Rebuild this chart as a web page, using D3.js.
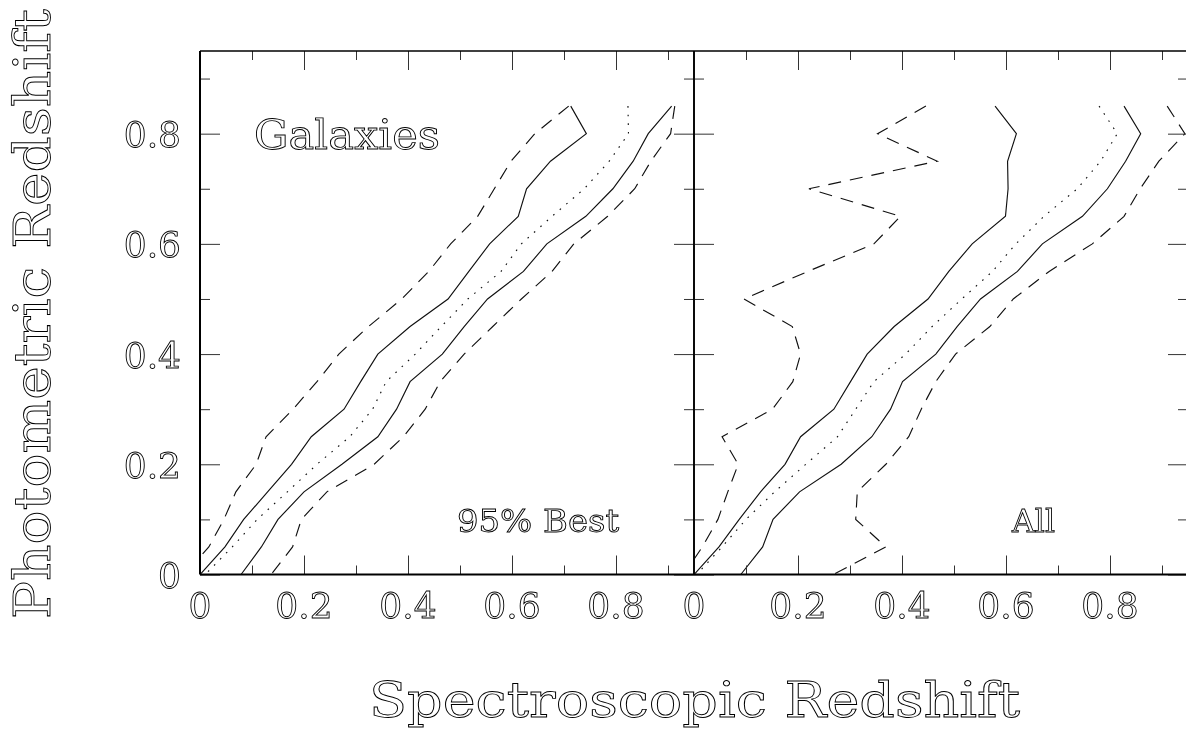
<!DOCTYPE html>
<html>
<head>
<meta charset="utf-8">
<script src="https://cdn.jsdelivr.net/npm/d3@7"></script>
<style>
  html, body { margin: 0; padding: 0; background: #fff; }
  svg { display: block; filter: grayscale(100%); -webkit-font-smoothing: antialiased; }
</style>
</head>
<body>
<svg id="chart" width="1186" height="731"></svg>
<script>
// ---------- data ----------
// photometric-redshift levels (y) at which the curves are sampled, top to bottom
const zPhot = [0.85, 0.8, 0.75, 0.7, 0.65, 0.6, 0.55, 0.5, 0.45, 0.4, 0.35, 0.3, 0.25, 0.2, 0.15, 0.1, 0.05, 0];

// left panel ("95% Best"): spectroscopic redshift of each curve at the levels above
const bestOuterLow  = [0.709, 0.644, 0.598, 0.566, 0.534, 0.482, 0.440, 0.388, 0.324, 0.267, 0.225, 0.179, 0.127, 0.108, 0.069, 0.046, 0.017, -0.03];
const bestInnerLow  = [0.713, 0.743, 0.674, 0.628, 0.612, 0.557, 0.517, 0.477, 0.404, 0.342, 0.309, 0.277, 0.214, 0.176, 0.130, 0.084, 0.048, 0.0];
const bestMedian    = [0.823, 0.824, 0.787, 0.739, 0.677, 0.618, 0.579, 0.515, 0.464, 0.414, 0.358, 0.332, 0.288, 0.225, 0.168, 0.110, 0.062, 0.010];
const bestInnerHigh = [0.907, 0.862, 0.833, 0.794, 0.742, 0.667, 0.622, 0.553, 0.508, 0.466, 0.404, 0.378, 0.342, 0.273, 0.200, 0.150, 0.118, 0.079];
const bestOuterHigh = [0.913, 0.905, 0.867, 0.836, 0.784, 0.719, 0.677, 0.618, 0.563, 0.508, 0.462, 0.433, 0.391, 0.335, 0.244, 0.195, 0.178, 0.137];

// right panel ("All")
const allOuterLow  = [0.446, 0.353, 0.468, 0.221, 0.397, 0.346, 0.219, 0.096, 0.189, 0.205, 0.190, 0.151, 0.054, 0.085, 0.065, 0.046, 0.016, -0.02];
const allInnerLow  = [0.579, 0.620, 0.603, 0.604, 0.599, 0.535, 0.490, 0.450, 0.385, 0.333, 0.301, 0.269, 0.205, 0.175, 0.128, 0.087, 0.048, 0.0];
const allMedian    = [0.779, 0.814, 0.782, 0.737, 0.673, 0.619, 0.574, 0.515, 0.458, 0.407, 0.346, 0.311, 0.276, 0.215, 0.155, 0.100, 0.054, 0.005];
const allInnerHigh = [0.827, 0.859, 0.830, 0.795, 0.747, 0.670, 0.622, 0.551, 0.506, 0.465, 0.401, 0.378, 0.342, 0.283, 0.203, 0.152, 0.132, 0.090];
const allOuterHigh = [0.910, 0.944, 0.894, 0.858, 0.827, 0.766, 0.683, 0.614, 0.569, 0.503, 0.465, 0.437, 0.413, 0.369, 0.314, 0.311, 0.369, 0.268];

const tickValues  = [0, 0.1, 0.2, 0.3, 0.4, 0.5, 0.6, 0.7, 0.8, 0.9];
const majorTicks  = [0, 0.2, 0.4, 0.6, 0.8];
const tickLabels  = ["0", "0.2", "0.4", "0.6", "0.8"];
const panelLabels = ["95% Best", "All"];
const titleText   = "Galaxies";
const xTitle      = "Spectroscopic Redshift";
const yTitle      = "Photometric Redshift";

// ---------- layout ----------
const FONT = "'DejaVu Serif', 'Liberation Serif', serif";
const svg = d3.select("#chart");
const yTop = 51, yBottom = 574.5;
const panels = [
  { x0: 200, x1: 694, curves: [bestOuterLow, bestInnerLow, bestMedian, bestInnerHigh, bestOuterHigh],
    label: panelLabels[0], labelX: 457, labelLen: 162 },
  { x0: 694, x1: 1188, curves: [allOuterLow, allInnerLow, allMedian, allInnerHigh, allOuterHigh],
    label: panelLabels[1], labelX: 1012, labelLen: 43 }
];
const styles = [
  { dash: "13,9" }, { dash: null }, { dash: "1.6,7" }, { dash: null }, { dash: "13,9" }
];
const y = d3.scaleLinear().domain([0, 0.95]).range([yBottom, yTop]);

function textStyle(sel, size) {
  sel.attr("font-family", FONT).attr("font-size", size)
     .attr("fill", "none").attr("stroke", "#000").attr("stroke-width", 0.9);
}

panels.forEach((p, i) => {
  const x = d3.scaleLinear().domain([0, 0.95]).range([p.x0, p.x1]);
  const g = svg.append("g");

  const clipId = "clip" + i;
  svg.append("clipPath").attr("id", clipId).append("rect")
    .attr("x", p.x0).attr("y", yTop).attr("width", p.x1 - p.x0).attr("height", yBottom - yTop);

  // curves
  const line = d3.line().x(d => x(d[0])).y(d => y(d[1]));
  p.curves.forEach((c, k) => {
    const pts = c.map((v, j) => [v, zPhot[j]]);
    g.append("path").datum(pts)
      .attr("d", line)
      .attr("fill", "none")
      .attr("stroke", "#111")
      .attr("stroke-width", 1.15)
      .attr("stroke-dasharray", styles[k].dash)
      .attr("clip-path", `url(#${clipId})`);
  });

  // ticks via d3 axes (inward)
  const minor = tickValues.filter(v => !majorTicks.includes(v));
  const addAxis = (axis, tx, ty) => {
    const a = g.append("g").attr("transform", `translate(${tx},${ty})`).call(axis);
    a.select(".domain").remove();
    a.selectAll("line").attr("stroke", "#333").attr("stroke-width", 1);
    a.selectAll("text").remove();
  };
  addAxis(d3.axisTop(x).tickValues(majorTicks).tickSize(19).tickFormat(""), 0, yBottom);
  addAxis(d3.axisTop(x).tickValues(minor).tickSize(9).tickFormat(""), 0, yBottom);
  addAxis(d3.axisBottom(x).tickValues(majorTicks).tickSize(19).tickFormat(""), 0, yTop);
  addAxis(d3.axisBottom(x).tickValues(minor).tickSize(9).tickFormat(""), 0, yTop);
  addAxis(d3.axisRight(y).tickValues(majorTicks).tickSize(20).tickFormat(""), p.x0, 0);
  addAxis(d3.axisRight(y).tickValues(minor).tickSize(10).tickFormat(""), p.x0, 0);
  addAxis(d3.axisLeft(y).tickValues(majorTicks).tickSize(20).tickFormat(""), p.x1, 0);
  addAxis(d3.axisLeft(y).tickValues(minor).tickSize(10).tickFormat(""), p.x1, 0);

  // frame
  g.append("line").attr("x1", p.x0).attr("x2", p.x1).attr("y1", yBottom).attr("y2", yBottom)
    .attr("stroke", "#000").attr("stroke-width", 2.2);
  g.append("line").attr("x1", p.x0).attr("x2", p.x1).attr("y1", yTop).attr("y2", yTop)
    .attr("stroke", "#000").attr("stroke-width", 1.4);
  g.append("line").attr("x1", p.x0).attr("x2", p.x0).attr("y1", yTop).attr("y2", yBottom)
    .attr("stroke", "#000").attr("stroke-width", i === 0 ? 2 : 1.6);
  g.append("line").attr("x1", p.x1).attr("x2", p.x1).attr("y1", yTop).attr("y2", yBottom)
    .attr("stroke", "#000").attr("stroke-width", 1.6);

  // x tick labels
  g.selectAll("text.xl").data(majorTicks).enter().append("text")
    .attr("class", "xl")
    .attr("x", d => x(d)).attr("y", 618)
    .attr("text-anchor", "middle")
    .text((d, j) => tickLabels[j])
    .call(textStyle, 36);

  // panel label
  g.append("text").attr("x", p.labelX).attr("y", 532)
    .attr("textLength", p.labelLen).attr("lengthAdjust", "spacingAndGlyphs")
    .text(p.label).call(textStyle, 32);
});

// y tick labels (left panel only)
svg.selectAll("text.yl").data(majorTicks).enter().append("text")
  .attr("class", "yl")
  .attr("x", 181).attr("y", d => y(d) + 13.5)
  .attr("text-anchor", "end")
  .text((d, j) => tickLabels[j])
  .call(textStyle, 36);

// "Galaxies"
svg.append("text").attr("x", 254).attr("y", 149)
  .attr("textLength", 186).attr("lengthAdjust", "spacingAndGlyphs")
  .text(titleText).call(textStyle, 41);

// axis titles
svg.append("text").attr("x", 369).attr("y", 717)
  .attr("textLength", 651).attr("lengthAdjust", "spacingAndGlyphs")
  .text(xTitle).call(textStyle, 49);

svg.append("text")
  .attr("transform", "translate(50,619) rotate(-90)")
  .attr("x", 0).attr("y", 0)
  .attr("textLength", 610).attr("lengthAdjust", "spacingAndGlyphs")
  .text(yTitle).call(textStyle, 50);
</script>
</body>
</html>
